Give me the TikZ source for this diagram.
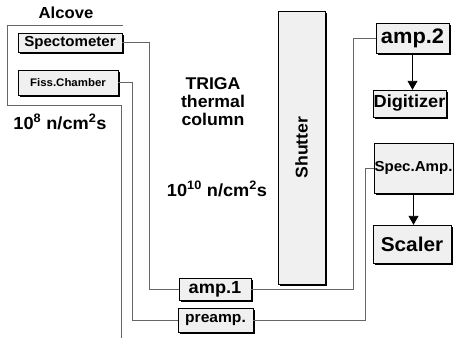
\documentclass[tikz,border=0pt]{standalone}
\usepackage{fontspec}
\setmainfont{Liberation Sans}[FakeStretch=1.04]
\usetikzlibrary{arrows.meta,shadows}
\newcommand{\fs}[1]{\bfseries\fontsize{#1}{#1}\selectfont}
\begin{document}
\begin{tikzpicture}[x=1pt,y=-1pt,
  unit/.style={draw,thin,fill=black!6,inner sep=0pt,
    drop shadow={shadow xshift=2pt,shadow yshift=-2pt,fill=black,opacity=1}},
  wire/.style={draw=black!60,line width=0.9pt},
  sig/.style={-{Triangle[width=10pt,length=9pt]},line width=0.9pt}]
  \useasboundingbox (0,0) rectangle (454,340);
  % alcove outline
  \draw[wire] (123,25) -- (7,25) -- (7,105) -- (121,105) -- (121,338);
  \node[font=\fs{16}] (alcove) at (66,13) {Alcove};
  \node[font=\fs{17.5}] (fluxA) at (60,122) {10\textsuperscript{8} n/cm\textsuperscript{2}s};
  \node[font=\fs{17},align=center,text depth=0pt] (triga) at (213,102)
    {TRIGA\\[1pt]thermal\\[1pt]column};
  \node[font=\fs{17.5}] (fluxB) at (217,189) {10\textsuperscript{10} n/cm\textsuperscript{2}s};
  % units
  \node[unit,minimum width=104pt,minimum height=19pt,font=\fs{14.5}] (spec) at (70,42.5) {Spectometer};
  \node[unit,minimum width=100pt,minimum height=25pt,font=\fs{11}] (fiss) at (68,82.5) {Fiss.Chamber};
  \node[unit,minimum width=273pt,minimum height=47pt,rotate=90,font=\fs{17}] (shutter) at (301.5,147.5) {Shutter};
  \node[unit,minimum width=72pt,minimum height=22pt,font=\fs{17.5}] (amp1) at (215,289) {amp.1};
  \node[unit,minimum width=75pt,minimum height=24pt,font=\fs{15}] (preamp) at (215.5,320) {preamp.};
  \node[unit,minimum width=73pt,minimum height=30pt,font=\fs{21}] (amp2) at (412.5,38) {amp.2};
  \node[unit,minimum width=73pt,minimum height=27pt,font=\fs{17.5}] (digit) at (409.5,103.5) {Digitizer};
  \node[unit,minimum width=79pt,minimum height=50pt,font=\fs{14.5}] (specamp) at (413.5,168) {Spec.Amp.};
  \node[unit,minimum width=78pt,minimum height=38pt,font=\fs{20}] (scaler) at (412,244) {Scaler};
  % cables
  \draw[wire] (spec.east) -- ++(27,0) |- (amp1.west);
  \draw[wire] (fiss.east) -- ++(14,0) |- (preamp.west);
  \draw[wire] (amp1.east) -- ++(102,0) |- (amp2.west);
  \draw[wire] (preamp.east) -- ++(112,0) |- (specamp.west);
  \draw[sig] (amp2.south) -- (digit.north -| amp2.south);
  \draw[sig] (specamp.south) -- (scaler.north -| specamp.south);
\end{tikzpicture}
\end{document}
